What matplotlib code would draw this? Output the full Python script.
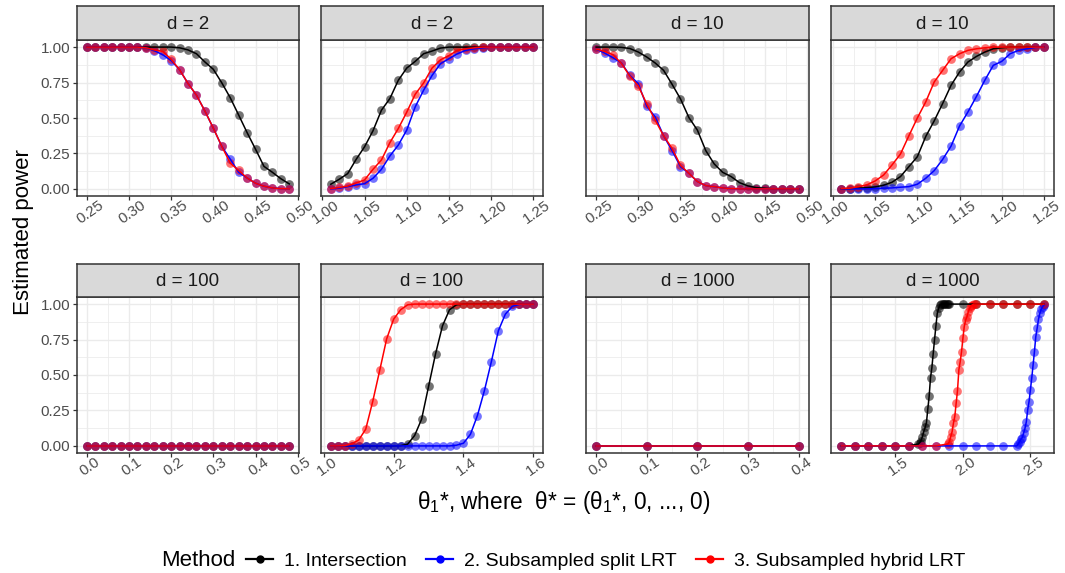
import matplotlib
matplotlib.use("Agg")
import matplotlib.pyplot as plt
from matplotlib.lines import Line2D
from matplotlib.ticker import FixedLocator, FixedFormatter
from matplotlib.transforms import ScaledTranslation

plt.rcParams['font.family'] = ['Liberation Sans', 'DejaVu Sans']
plt.rcParams['mathtext.fontset'] = 'custom'
plt.rcParams['mathtext.rm'] = 'Liberation Sans'
plt.rcParams['mathtext.it'] = 'Liberation Sans:italic'

# ---------------- data ----------------
methods = ["1. Intersection", "2. Subsampled split LRT", "3. Subsampled hybrid LRT"]
method_colors = ["#000000", "#0000FF", "#FF0000"]

theta_d2_a = [0.25, 0.26, 0.27, 0.28, 0.29, 0.30, 0.31, 0.32, 0.33, 0.34, 0.35, 0.36, 0.37,
              0.38, 0.39, 0.40, 0.41, 0.42, 0.43, 0.44, 0.45, 0.46, 0.47, 0.48, 0.49]
d2a_int = [1, 1, 1, 1, 1, 1, 1, 1, 1, 1, 1, 0.995, 0.98, 0.953, 0.895, 0.843, 0.748, 0.643,
           0.521, 0.397, 0.28, 0.159, 0.117, 0.072, 0.035]
d2a_split = [1, 1, 1, 1, 1, 1, 1, 0.995, 0.975, 0.946, 0.905, 0.84, 0.743, 0.661, 0.549,
             0.428, 0.30, 0.21, 0.117, 0.077, 0.04, 0.019, 0.007, 0.002, 0.0]
d2a_hyb = [1, 1, 1, 1, 1, 1, 1, 0.995, 0.98, 0.97, 0.914, 0.84, 0.743, 0.661, 0.549,
           0.428, 0.30, 0.182, 0.13, 0.077, 0.04, 0.019, 0.007, 0.002, 0.0]

theta_d2_b = [1.01, 1.02, 1.03, 1.04, 1.05, 1.06, 1.07, 1.08, 1.09, 1.10, 1.11, 1.12, 1.13,
              1.14, 1.15, 1.16, 1.17, 1.18, 1.19, 1.20, 1.21, 1.22, 1.23, 1.24, 1.25]
d2b_int = [0.033, 0.068, 0.108, 0.208, 0.297, 0.41, 0.555, 0.637, 0.766, 0.852, 0.899, 0.953,
           0.972, 0.993, 1, 1, 1, 1, 1, 1, 1, 1, 1, 1, 1]
d2b_split = [0, 0.005, 0.016, 0.028, 0.037, 0.075, 0.138, 0.232, 0.309, 0.415, 0.578, 0.696,
             0.80, 0.883, 0.918, 0.953, 0.977, 0.988, 0.995, 1, 1, 1, 1, 1, 1]
d2b_hyb = [0.002, 0.01, 0.02, 0.042, 0.063, 0.138, 0.204, 0.326, 0.426, 0.541, 0.667, 0.747,
           0.852, 0.91, 0.94, 0.977, 0.988, 0.995, 1, 1, 1, 1, 1, 1, 1]

theta_d10_a = theta_d2_a
d10a_int = [1, 1, 1, 0.998, 0.99, 0.965, 0.93, 0.888, 0.836, 0.738, 0.635, 0.503, 0.415,
            0.27, 0.176, 0.117, 0.087, 0.044, 0.021, 0.009, 0.005, 0, 0, 0, 0]
d10a_split = [0.986, 0.958, 0.925, 0.888, 0.80, 0.742, 0.583, 0.508, 0.375, 0.27, 0.157,
              0.11, 0.052, 0.023, 0.016, 0.007, 0.002, 0, 0, 0, 0, 0, 0, 0, 0]
d10a_hyb = [0.986, 0.97, 0.946, 0.885, 0.795, 0.726, 0.60, 0.485, 0.375, 0.286, 0.166,
            0.11, 0.052, 0.023, 0.016, 0.007, 0.002, 0, 0, 0, 0, 0, 0, 0, 0]

theta_d10_b = theta_d2_b
d10b_int = [0, 0.002, 0.005, 0.009, 0.014, 0.026, 0.047, 0.087, 0.157, 0.227, 0.37, 0.48,
            0.602, 0.731, 0.824, 0.895, 0.934, 0.965, 0.988, 0.995, 1, 1, 1, 1, 1]
d10b_split = [0, 0, 0, 0, 0.002, 0.005, 0.007, 0.012, 0.016, 0.033, 0.075, 0.129, 0.208,
              0.302, 0.443, 0.543, 0.651, 0.766, 0.871, 0.899, 0.953, 0.977, 0.988, 0.998, 1.0]
d10b_hyb = [0.002, 0.005, 0.016, 0.028, 0.056, 0.098, 0.169, 0.246, 0.375, 0.50, 0.614,
            0.754, 0.836, 0.918, 0.953, 0.977, 0.988, 0.995, 1, 1, 1, 1, 1, 1, 1]

theta_d100_a = [0.00, 0.02, 0.04, 0.06, 0.08, 0.10, 0.12, 0.14, 0.16, 0.18, 0.20, 0.22, 0.24,
                0.26, 0.28, 0.30, 0.32, 0.34, 0.36, 0.38, 0.40, 0.42, 0.44, 0.46, 0.48]
d100a_int = [0] * 25
d100a_split = [0] * 25
d100a_hyb = [0] * 25

theta_d100_b = [1.02, 1.04, 1.06, 1.08, 1.10, 1.12, 1.14, 1.16, 1.18, 1.20, 1.22, 1.24, 1.26,
                1.28, 1.30, 1.32, 1.34, 1.36, 1.38, 1.40, 1.42, 1.44, 1.46, 1.48, 1.50, 1.52,
                1.54, 1.56, 1.58, 1.60]
d100b_int = [0, 0, 0, 0, 0, 0, 0, 0, 0, 0, 0.002, 0.012, 0.073, 0.188, 0.419, 0.649, 0.847,
             0.96, 0.995, 1, 1, 1, 1, 1, 1, 1, 1, 1, 1, 1]
d100b_split = [0, 0, 0, 0, 0, 0, 0, 0, 0, 0, 0, 0, 0, 0, 0, 0, 0, 0, 0.005, 0.019, 0.082,
               0.214, 0.39, 0.595, 0.812, 0.929, 0.984, 0.998, 1, 1]
d100b_hyb = [0, 0, 0.002, 0.014, 0.042, 0.118, 0.313, 0.532, 0.755, 0.894, 0.96, 0.995, 1, 1,
             1, 1, 1, 1, 1, 1, 1, 1, 1, 1, 1, 1, 1, 1, 1, 1]

theta_d1000_a = [0.0, 0.1, 0.2, 0.3, 0.4]
d1000a_int = [0, 0, 0, 0, 0]
d1000a_split = [0, 0, 0, 0, 0]
d1000a_hyb = [0, 0, 0, 0, 0]

theta_d1000_b_int = [1.1, 1.2, 1.3, 1.4, 1.5, 1.6, 1.67, 1.68, 1.69, 1.70, 1.71, 1.72, 1.73,
                     1.74, 1.75, 1.76, 1.77, 1.78, 1.79, 1.80, 1.81, 1.82, 1.83, 1.84, 1.85,
                     1.86, 1.87, 1.88, 1.89, 1.90, 2.0, 2.1, 2.2, 2.3, 2.4, 2.5, 2.6]
d1000b_int = [0, 0, 0, 0, 0, 0, 0.014, 0.023, 0.038, 0.066, 0.10, 0.13, 0.164, 0.26, 0.35,
              0.48, 0.55, 0.65, 0.75, 0.845, 0.934, 0.97, 0.993, 1, 1, 1, 1, 1, 1, 1,
              1, 1, 1, 1, 1, 1, 1]
theta_d1000_b_split = [1.1, 1.2, 1.3, 1.4, 1.5, 1.6, 1.7, 1.8, 1.9, 2.0, 2.1, 2.2, 2.3, 2.4,
                       2.41, 2.42, 2.43, 2.44, 2.45, 2.46, 2.47, 2.48, 2.49, 2.50, 2.51, 2.52,
                       2.53, 2.54, 2.55, 2.56, 2.57, 2.58, 2.59, 2.60]
d1000b_split = [0, 0, 0, 0, 0, 0, 0, 0, 0, 0, 0, 0, 0, 0, 0.014, 0.03, 0.047, 0.059, 0.09,
                0.124, 0.17, 0.254, 0.312, 0.394, 0.477, 0.57, 0.664, 0.77, 0.829, 0.892,
                0.934, 0.962, 0.981, 0.993]
theta_d1000_b_hyb = [1.1, 1.2, 1.3, 1.4, 1.5, 1.6, 1.7, 1.8, 1.89, 1.90, 1.91, 1.92, 1.93,
                     1.94, 1.95, 1.96, 1.97, 1.98, 1.99, 2.00, 2.01, 2.02, 2.03, 2.04, 2.05,
                     2.06, 2.07, 2.08, 2.1, 2.2, 2.3, 2.4, 2.5, 2.6]
d1000b_hyb = [0, 0, 0, 0, 0, 0, 0, 0, 0.014, 0.03, 0.066, 0.10, 0.16, 0.207, 0.30, 0.39,
              0.535, 0.594, 0.664, 0.758, 0.84, 0.887, 0.91, 0.946, 0.97, 0.986, 0.995, 1.0,
              1, 1, 1, 1, 1, 1]

panel_titles = ["d = 2", "d = 2", "d = 10", "d = 10", "d = 100", "d = 100", "d = 1000", "d = 1000"]

x_breaks_top_a = [0.25, 0.30, 0.35, 0.40, 0.45, 0.50]
x_breaks_top_b = [1.00, 1.05, 1.10, 1.15, 1.20, 1.25]
x_breaks_d100_a = [0.0, 0.1, 0.2, 0.3, 0.4, 0.5]
x_breaks_d100_b = [1.0, 1.2, 1.4, 1.6]
x_breaks_d1000_a = [0.0, 0.1, 0.2, 0.3, 0.4]
x_breaks_d1000_b = [1.5, 2.0, 2.5]
y_breaks = [0.00, 0.25, 0.50, 0.75, 1.00]

panels = [
    (0, 0, [(theta_d2_a, d2a_int), (theta_d2_a, d2a_split), (theta_d2_a, d2a_hyb)], x_breaks_top_a, "%.2f"),
    (0, 1, [(theta_d2_b, d2b_int), (theta_d2_b, d2b_split), (theta_d2_b, d2b_hyb)], x_breaks_top_b, "%.2f"),
    (0, 2, [(theta_d10_a, d10a_int), (theta_d10_a, d10a_split), (theta_d10_a, d10a_hyb)], x_breaks_top_a, "%.2f"),
    (0, 3, [(theta_d10_b, d10b_int), (theta_d10_b, d10b_split), (theta_d10_b, d10b_hyb)], x_breaks_top_b, "%.2f"),
    (1, 0, [(theta_d100_a, d100a_int), (theta_d100_a, d100a_split), (theta_d100_a, d100a_hyb)], x_breaks_d100_a, "%.1f"),
    (1, 1, [(theta_d100_b, d100b_int), (theta_d100_b, d100b_split), (theta_d100_b, d100b_hyb)], x_breaks_d100_b, "%.1f"),
    (1, 2, [(theta_d1000_a, d1000a_int), (theta_d1000_a, d1000a_split), (theta_d1000_a, d1000a_hyb)], x_breaks_d1000_a, "%.1f"),
    (1, 3, [(theta_d1000_b_int, d1000b_int), (theta_d1000_b_split, d1000b_split), (theta_d1000_b_hyb, d1000b_hyb)], x_breaks_d1000_b, "%.1f"),
]

# ---------------- layout ----------------
W, H = 1065, 573
fig = plt.figure(figsize=(W / 100, H / 100), dpi=100)

col_left = [76.7, 320.7, 586.0, 831.3]
col_w = 222.7
row_top = [40.0, 297.0]
row_h = 156.0
strip_h = [34.0, 33.0]

BORDER = "#333333"
GRID = "#EBEBEB"
TICKCOL = "#4D4D4D"
shift = ScaledTranslation(3.0 / 100, 0, fig.dpi_scale_trans)


def px_axes(l, t, w, h):
    return fig.add_axes([l / W, 1 - (t + h) / H, w / W, h / H])


def minor_between(b):
    return [(b[i] + b[i + 1]) / 2 for i in range(len(b) - 1)]


for k, (r, c, series, xb, fmt) in enumerate(panels):
    ax = px_axes(col_left[c], row_top[r], col_w, row_h)
    for (xs, ys), col in zip(series, method_colors):
        ax.plot(xs, ys, 'o', color=col, alpha=0.55, ms=6.3, mew=0, zorder=2)
    for (xs, ys), col in zip(series, method_colors):
        ax.plot(xs, ys, '-', color=col, lw=1.1, zorder=3)
    allx = [v for xs, _ in series for v in xs]
    lo, hi = min(allx), max(allx)
    pad = 0.05 * (hi - lo)
    ax.set_xlim(lo - pad, hi + pad)
    ax.set_ylim(-0.05, 1.05)
    ax.xaxis.set_major_locator(FixedLocator(xb))
    ax.xaxis.set_major_formatter(FixedFormatter([fmt % v for v in xb]))
    mx = minor_between(xb)
    if c == 3 and r == 1:
        mx = [1.25] + mx
    ax.xaxis.set_minor_locator(FixedLocator(mx))
    ax.yaxis.set_major_locator(FixedLocator(y_breaks))
    ax.yaxis.set_minor_locator(FixedLocator(minor_between(y_breaks)))
    ax.grid(which='major', color=GRID, lw=1.0, zorder=0)
    ax.grid(which='minor', color=GRID, lw=0.55, zorder=0)
    ax.set_axisbelow(True)
    for s in ax.spines.values():
        s.set_color(BORDER)
        s.set_linewidth(1.1)
    ax.tick_params(which='minor', length=0)
    ax.tick_params(which='major', length=2.75, width=0.9, color=BORDER,
                   labelcolor=TICKCOL, labelsize=11, pad=2)
    ax.tick_params(axis='x', pad=-1.5)
    for tk in ax.xaxis.get_major_ticks():
        lab = tk.label1
        lab.set_rotation(35)
        lab.set_ha('center')
        lab.set_va('top')
        lab.set_rotation_mode('default')
        lab.set_transform(lab.get_transform() + shift)
    if c == 0:
        ax.yaxis.set_major_formatter(FixedFormatter(["%.2f" % v for v in y_breaks]))
    else:
        ax.tick_params(axis='y', length=0, labelleft=False)

    # strip
    sh = strip_h[r]
    sax = px_axes(col_left[c], row_top[r] - sh, col_w, sh)
    sax.set_facecolor("#D9D9D9")
    sax.set_xticks([])
    sax.set_yticks([])
    for s in sax.spines.values():
        s.set_color(BORDER)
        s.set_linewidth(1.1)
    sax.text(0.5, 0.47, panel_titles[k], transform=sax.transAxes, ha='center', va='center',
             fontsize=13.5, color="#1A1A1A")

# axis titles
fig.text(24 / W, 1 - 232 / H, "Estimated power", rotation=90, ha='center', va='center',
         fontsize=16, color="black")
fig.text(564 / W, 1 - 503 / H,
         "\u03b8$_{1}$*, where  \u03b8* = (\u03b8$_{1}$*, 0, ..., 0)",
         ha='center', va='center', fontsize=16.3, color="black")

# legend
handles = [Line2D([], [], color=col, marker='o', ms=5.0, lw=1.6) for col in method_colors]
fig.text(161 / W, 1 - 561 / H, "Method", ha='left', va='center', fontsize=16)
fig.legend(handles, methods, loc='center left', bbox_to_anchor=(246 / W, 1 - 561 / H),
           ncol=3, frameon=False, fontsize=14, handlelength=1.4, handletextpad=0.55,
           columnspacing=1.0, borderaxespad=0, borderpad=0)

fig.savefig("out.png", dpi=100)
